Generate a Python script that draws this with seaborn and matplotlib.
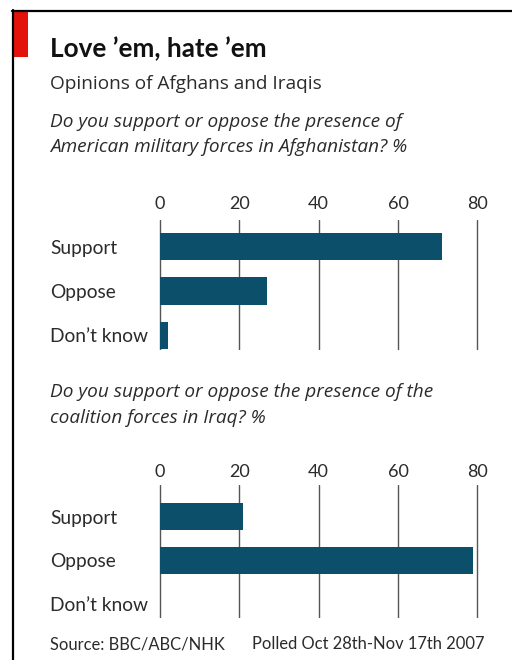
import matplotlib
matplotlib.use("Agg")
import matplotlib.pyplot as plt
import seaborn as sns
import pandas as pd
from matplotlib.patches import Rectangle
from matplotlib.lines import Line2D

# ---- data ----
categories = ["Support", "Oppose", "Don\u2019t know"]
afghan_values = [71, 27, 2]
iraq_values = [21, 79, 0]
x_ticks = [0, 20, 40, 60, 80]

title = "Love \u2019em, hate \u2019em"
subtitle = "Opinions of Afghans and Iraqis"
q1 = "Do you support or oppose the presence of\nAmerican military forces in Afghanistan? %"
q2 = "Do you support or oppose the presence of the\ncoalition forces in Iraq? %"
source = "Source: BBC/ABC/NHK"
polled = "Polled Oct 28th-Nov 17th 2007"

BAR = "#0b4f6b"
TXT = "#2b2b2b"
FONT = ["Lato", "DejaVu Sans"]
FONT2 = ["Open Sans", "DejaVu Sans"]

sns.set_theme(style="white")
plt.rcParams["font.family"] = FONT

W, H = 512, 660
fig = plt.figure(figsize=(W / 100, H / 100), dpi=100)
fig.patch.set_facecolor("white")

def fx(px):
    return px / W

def fy(py):
    return 1 - py / H

# frame lines and red tag
fig.add_artist(Line2D([fx(12.5), fx(12.5)], [fy(10), fy(660)], color="black", lw=1.6,
                      transform=fig.transFigure))
fig.add_artist(Line2D([fx(12), fx(512)], [fy(10.5), fy(10.5)], color="black", lw=1.6,
                      transform=fig.transFigure))
fig.add_artist(Rectangle((fx(13.5), fy(57)), fx(14), (57 - 11.5) / H, color="#e3120b",
                         transform=fig.transFigure, lw=0))

# texts
fig.text(fx(50), fy(57.3), title, fontsize=18.8, fontweight="bold", color="#111111", va="baseline")
fig.text(fx(50), fy(89), subtitle, fontsize=13.7, color=TXT, va="baseline", family=FONT2)
qkw = dict(fontsize=13.7, style="italic", color=TXT, va="baseline", family=FONT2)
fig.text(fx(50), fy(126.7), q1.split("\n")[0], **qkw)
fig.text(fx(50), fy(151.7), q1.split("\n")[1], **qkw)
fig.text(fx(50), fy(397.3), q2.split("\n")[0], **qkw)
fig.text(fx(50), fy(423.3), q2.split("\n")[1], **qkw)
fig.text(fx(50), fy(649.3), source, fontsize=11.9, color=TXT, va="baseline")
fig.text(fx(485), fy(649.3), polled, fontsize=11.9, color=TXT, va="baseline", ha="right")

PXU = (477.3 - 160) / 80.0  # pixels per unit


def panel(values, top_px, bottom_px, ytop, ybot, pad_px):
    x0 = -1.0
    x1 = 81.0
    left_px = 160 + x0 * PXU
    width_px = (x1 - x0) * PXU
    ax = fig.add_axes([fx(left_px), fy(bottom_px), width_px / W, (bottom_px - top_px) / H])
    df = pd.DataFrame({"category": categories, "value": values})
    sns.barplot(data=df, x="value", y="category", orient="h", color=BAR, width=0.61,
                saturation=1, ax=ax, zorder=3)
    for p in ax.patches:
        p.set_edgecolor("none")
    ax.set_xlim(x0, x1)
    ax.set_ylim(ybot, ytop)
    ax.set_xticks(x_ticks)
    ax.xaxis.tick_top()
    ax.set_xlabel("")
    ax.set_ylabel("")
    ax.grid(axis="x", color="#555555", lw=1.0, zorder=1)
    ax.grid(axis="y", visible=False)
    for s in ax.spines.values():
        s.set_visible(False)
    ax.set_facecolor("none")
    ax.tick_params(axis="x", length=0, pad=pad_px * 72 / 100, labelsize=13, labelcolor=TXT)
    ax.tick_params(axis="y", length=0, pad=(left_px - 50) * 72 / 100, labelsize=13.8, labelcolor=TXT)
    for lab in ax.get_yticklabels():
        lab.set_horizontalalignment("left")
    return ax

panel(afghan_values, 220, 350, -0.596, 2.326, 8)
panel(iraq_values, 485, 618, -0.716, 2.307, 5)

fig.savefig("out.png", dpi=100, facecolor="white")
